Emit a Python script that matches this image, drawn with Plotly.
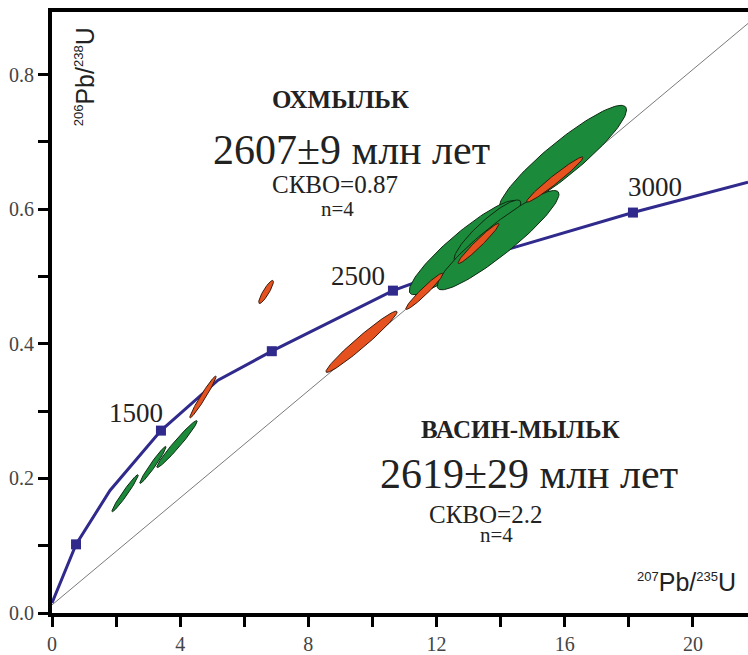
import numpy as np
import plotly.graph_objects as go

# ---- data ----
# concordia polyline
conc_x = [0.0, 0.75, 1.81, 3.40, 5.18, 6.86, 10.64, 13.98, 18.13, 21.72]
conc_y = [0.015, 0.102, 0.182, 0.271, 0.346, 0.389, 0.479, 0.537, 0.595, 0.640]
# age markers on concordia
mark_age = [500, 1500, 2000, 2500, 3000]
mark_x = [0.75, 3.40, 6.86, 10.64, 18.13]
mark_y = [0.102, 0.271, 0.389, 0.479, 0.595]
# labelled ages
lab_age = ["1500", "2500", "3000"]
lab_x = [2.62, 9.55, 18.81]
lab_y = [0.297, 0.501, 0.633]
# thin reference line
ref_x = [0.0, 21.72]
ref_y = [0.012, 0.876]

# green error ellipses: 207Pb/235U, 206Pb/238U, errors, correlation
green_x = [2.28, 3.15, 3.90, 15.94, 12.86, 13.59, 13.92]
green_y = [0.178, 0.220, 0.251, 0.675, 0.543, 0.568, 0.554]
green_sx = [0.41, 0.41, 0.63, 1.99, 1.71, 1.04, 1.90]
green_sy = [0.0275, 0.0275, 0.0349, 0.0793, 0.0701, 0.0457, 0.0738]
green_rho = [0.972, 0.972, 0.974, 0.914, 0.911, 0.902, 0.924]

# orange error ellipses
orange_x = [4.71, 6.68, 9.66, 11.62, 13.31, 15.69]
orange_y = [0.321, 0.477, 0.403, 0.478, 0.549, 0.644]
orange_sx = [0.41, 0.23, 1.11, 0.58, 0.64, 0.88]
orange_sy = [0.0311, 0.0172, 0.0455, 0.0269, 0.0298, 0.0336]
orange_rho = [0.974, 0.884, 0.973, 0.964, 0.970, 0.974]

x_ticks = [0, 2, 4, 6, 8, 10, 12, 14, 16, 18, 20]
x_ticktext = ["0", "", "4", "", "8", "", "12", "", "16", "", "20"]
y_ticks = [0.0, 0.1, 0.2, 0.3, 0.4, 0.5, 0.6, 0.7, 0.8]
y_ticktext = ["0.0", "", "0.2", "", "0.4", "", "0.6", "", "0.8"]

GREEN = "#1b8a3a"
ORANGE = "#e5521f"
BLUE = "#2f2a8c"
SERIF = "Liberation Serif, Times New Roman, serif"
SANS = "Liberation Sans, Arial, sans-serif"

fig = go.Figure()

fig.add_trace(go.Scatter(x=ref_x, y=ref_y, mode="lines",
                         line=dict(color="#7a7a7a", width=1), hoverinfo="skip"))

def ellipse(cx, cy, sx, sy, rho, n=120):
    t = np.linspace(0, 2 * np.pi, n)
    ex = cx + sx * np.cos(t)
    ey = cy + sy * (rho * np.cos(t) + np.sqrt(1 - rho ** 2) * np.sin(t))
    return ex, ey

fig.add_trace(go.Scatter(x=conc_x, y=conc_y, mode="lines",
                         line=dict(color=BLUE, width=3), hoverinfo="skip"))
fig.add_trace(go.Scatter(x=mark_x, y=mark_y, mode="markers",
                         marker=dict(symbol="square", size=10, color=BLUE),
                         text=[str(a) for a in mark_age], hoverinfo="text"))

for cx, cy, sx, sy, r in zip(green_x, green_y, green_sx, green_sy, green_rho):
    ex, ey = ellipse(cx, cy, sx, sy, r)
    fig.add_trace(go.Scatter(x=ex, y=ey, mode="lines", fill="toself",
                             fillcolor=GREEN, line=dict(color="#0d2a12", width=1),
                             hoverinfo="skip"))
for cx, cy, sx, sy, r in zip(orange_x, orange_y, orange_sx, orange_sy, orange_rho):
    ex, ey = ellipse(cx, cy, sx, sy, r)
    fig.add_trace(go.Scatter(x=ex, y=ey, mode="lines", fill="toself",
                             fillcolor=ORANGE, line=dict(color="#3a1a0a", width=1),
                             hoverinfo="skip"))

ann = []
for t, x, y in zip(lab_age, lab_x, lab_y):
    ann.append(dict(x=x, y=y, text=t, showarrow=False,
                    font=dict(family=SERIF, size=27, color="#222")))

texts = [
    ("<b>ОХМЫЛЬК</b>", 8.99, 0.763, 25),
    ("2607±9 млн лет", 9.36, 0.688, 42),
    ("СКВО=0.87", 8.83, 0.636, 25),
    ("n=4", 8.92, 0.600, 21),
    ("<b>ВАСИН-МЫЛЬК</b>", 14.63, 0.272, 25),
    ("2619±29 млн лет", 14.88, 0.206, 42),
    ("СКВО=2.2", 13.54, 0.147, 25),
    ("n=4", 13.88, 0.116, 21),
]
for t, x, y, s in texts:
    ann.append(dict(x=x, y=y, text=t, showarrow=False,
                    font=dict(family=SERIF, size=s, color="#222")))

SUP = "<sup><span style='font-size:13px'>{}</span></sup>"
ann.append(dict(x=19.81, y=0.046,
                text=SUP.format("207") + "Pb/" + SUP.format("235") + "U",
                showarrow=False,
                font=dict(family=SANS, size=25, color="#222")))
ann.append(dict(x=1.03, y=0.796, textangle=-90,
                text=SUP.format("206") + "Pb/" + SUP.format("238") + "U",
                showarrow=False,
                font=dict(family=SANS, size=25, color="#222")))

fig.update_layout(
    width=748, height=655,
    margin=dict(l=52, r=0, t=12, b=39),
    plot_bgcolor="white", paper_bgcolor="white",
    showlegend=False,
    annotations=ann,
    xaxis=dict(range=[0, 21.72], showgrid=False, zeroline=False,
               showline=True, linewidth=4, linecolor="black", mirror=True,
               ticks="outside", ticklen=10, tickwidth=3, tickcolor="black",
               tickvals=x_ticks, ticktext=x_ticktext,
               tickfont=dict(family=SERIF, size=20, color="#444")),
    yaxis=dict(range=[0, 0.893], showgrid=False, zeroline=False,
               showline=True, linewidth=4, linecolor="black",
               ticks="outside", ticklen=10, tickwidth=3, tickcolor="black",
               tickvals=y_ticks, ticktext=y_ticktext,
               tickfont=dict(family=SERIF, size=20, color="#444")),
)

fig.write_html("out.html", config={"displayModeBar": False},
               post_script="document.body.style.margin='0';document.body.style.overflow='hidden';")
